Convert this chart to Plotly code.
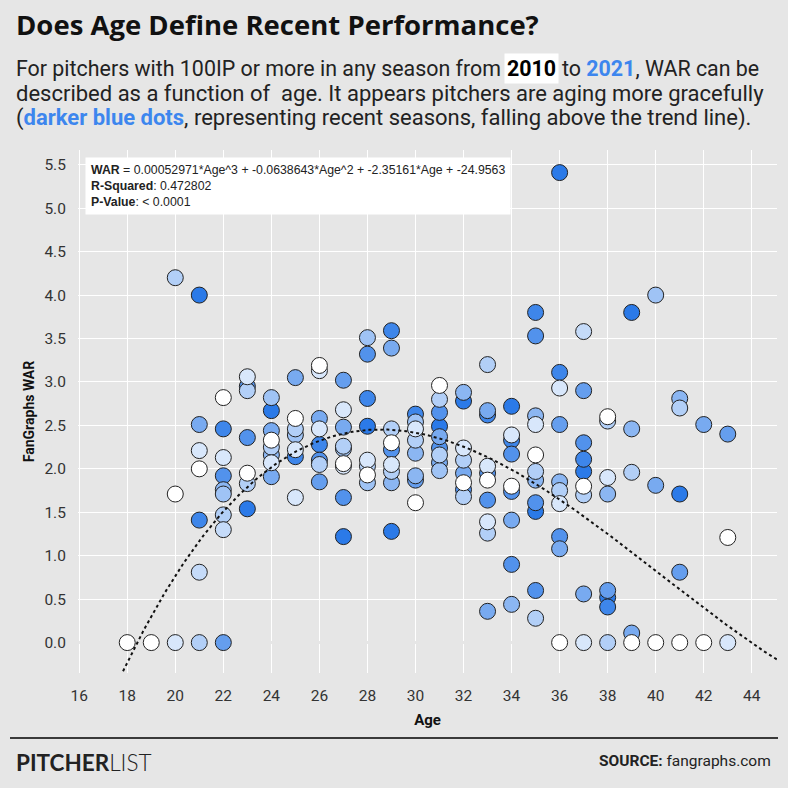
import numpy as np
import pandas as pd
import plotly.graph_objects as go

# pitcher seasons: age, fWAR, season (colour)
ages = (
    [18, 19]
    + [20] * 3
    + [21] * 7
    + [22] * 9
    + [23] * 7
    + [24] * 8
    + [25] * 7
    + [26] * 8
    + [27] * 9
    + [28] * 8
    + [29] * 9
    + [30] * 8
    + [31] * 9
    + [32] * 8
    + [33] * 10
    + [34] * 9
    + [35] * 11
    + [36] * 10
    + [37] * 9
    + [38] * 8
    + [39] * 5
    + [40] * 3
    + [41] * 5
    + [42] * 2
    + [43] * 3
)

war = [
    0.0, 0.0,
    4.2, 1.71, 0.0,
    4.0, 2.51, 2.21, 2.0, 1.41, 0.81, 0.0,
    2.82, 2.46, 2.13, 1.92, 1.76, 1.71, 1.47, 1.3, 0.0,
    3.06, 2.95, 2.9, 2.36, 1.95, 1.83, 1.54,
    2.82, 2.67, 2.44, 2.33, 2.25, 2.16, 2.07, 1.91,
    3.05, 2.58, 2.46, 2.39, 2.22, 2.14, 1.67,
    3.19, 3.13, 2.58, 2.46, 2.28, 2.1, 2.05, 1.85,
    3.02, 2.68, 2.48, 2.26, 2.23, 2.06, 2.03, 1.67, 1.22,
    3.51, 3.32, 2.81, 2.49, 2.1, 2.03, 1.93, 1.84,
    3.59, 3.39, 2.46, 2.3, 2.22, 2.05, 1.97, 1.84, 1.28,
    2.63, 2.54, 2.46, 2.33, 2.18, 1.92, 1.87, 1.61,
    2.96, 2.8, 2.65, 2.49, 2.37, 2.24, 2.16, 2.07, 1.98,
    2.88, 2.78, 2.24, 2.1, 1.95, 1.84, 1.76, 1.68,
    3.2, 2.67, 2.62, 2.03, 1.95, 1.87, 1.64, 1.39, 1.26, 0.36,
    2.72, 2.39, 2.33, 2.17, 1.8, 1.74, 1.41, 0.9, 0.44,
    3.8, 3.53, 2.61, 2.51, 2.16, 1.97, 1.87, 1.61, 1.51, 0.6, 0.28,
    5.41, 3.11, 2.93, 2.51, 1.85, 1.75, 1.6, 1.22, 1.08, 0.0,
    3.58, 2.9, 2.3, 2.11, 1.97, 1.8, 1.7, 0.56, 0.0,
    2.6, 2.55, 1.9, 1.71, 0.6, 0.52, 0.41, 0.0,
    3.8, 2.46, 1.96, 0.11, 0.0,
    4.0, 1.81, 0.0,
    2.81, 2.7, 1.71, 0.81, 0.0,
    2.51, 0.0,
    2.4, 1.21, 0.0,
]

season = [
    2010, 2010,
    2014, 2010, 2012,
    2021, 2017, 2012, 2010, 2020, 2013, 2014,
    2010, 2020, 2012, 2019, 2016, 2015, 2014, 2013, 2018,
    2012, 2019, 2014, 2019, 2010, 2014, 2021,
    2015, 2021, 2017, 2010, 2014, 2016, 2012, 2017,
    2017, 2010, 2014, 2015, 2012, 2020, 2012,
    2010, 2012, 2017, 2012, 2020, 2019, 2014, 2018,
    2018, 2012, 2017, 2014, 2015, 2010, 2012, 2019, 2021,
    2015, 2019, 2020, 2021, 2012, 2014, 2010, 2015,
    2020, 2017, 2014, 2010, 2019, 2012, 2014, 2016, 2021,
    2020, 2015, 2012, 2014, 2016, 2016, 2018, 2010,
    2010, 2014, 2019, 2021, 2017, 2019, 2014, 2017, 2015,
    2016, 2021, 2012, 2014, 2017, 2010, 2019, 2014,
    2014, 2017, 2020, 2012, 2019, 2010, 2019, 2012, 2014, 2017,
    2021, 2012, 2020, 2019, 2010, 2019, 2017, 2019, 2016,
    2020, 2019, 2016, 2012, 2010, 2014, 2016, 2019, 2021, 2019, 2014,
    2021, 2020, 2012, 2018, 2016, 2014, 2012, 2019, 2017, 2010,
    2013, 2018, 2019, 2020, 2021, 2010, 2014, 2017, 2012,
    2010, 2014, 2012, 2016, 2018, 2021, 2020, 2014,
    2021, 2016, 2014, 2017, 2010,
    2015, 2017, 2010,
    2016, 2014, 2021, 2018, 2010,
    2017, 2010,
    2018, 2010, 2012,
]

x_ticks = list(range(16, 46, 2))
y_ticks = [i / 2 for i in range(0, 12)]

# cubic trend from the fit box
fit_a, fit_b, fit_c, fit_d = 0.00052971, -0.0638643, 2.35161, -24.9563

BG = "#e6e6e6"
BLUE = "#2b7ae8"
W, H = 788, 788
L, R, T, B = 78, 11, 150, 115


def px(x):
    return (x - L) / (W - L - R)


def py(y):
    return (H - B - y) / (H - T - B)


df = pd.DataFrame({"Age": ages, "WAR": war, "Season": season})
df = df.sort_values("Season", ascending=False, kind="stable")

fig = go.Figure()

fig.add_trace(go.Scatter(
    x=df["Age"],
    y=df["WAR"],
    mode="markers",
    marker=dict(
        size=16,
        color=df["Season"],
        colorscale=[[0, "#ffffff"], [1, BLUE]],
        cmin=2010,
        cmax=2021,
        line=dict(color="#222222", width=1),
        opacity=1,
    ),
    hoverinfo="skip",
    showlegend=False,
))

trend_x = np.linspace(17.0, 46.0, 300)
trend_y = fit_a * trend_x ** 3 + fit_b * trend_x ** 2 + fit_c * trend_x + fit_d
fig.add_trace(go.Scatter(
    x=trend_x,
    y=trend_y,
    mode="lines",
    line=dict(color="#111111", width=2, dash="dot"),
    hoverinfo="skip",
    showlegend=False,
))

fig.update_layout(
    width=W,
    height=H,
    paper_bgcolor=BG,
    plot_bgcolor=BG,
    margin=dict(l=L, r=R, t=T, b=B),
    font=dict(family="Roboto", color="#222222"),
    xaxis=dict(
        range=[15.95, 45.05],
        tickvals=x_ticks,
        showgrid=True,
        gridcolor="white",
        gridwidth=1,
        zeroline=False,
        ticks="outside",
        ticklen=8,
        tickcolor=BG,
        tickfont=dict(size=15.5, color="#333333"),
        title=dict(text="<b>Age</b>", font=dict(size=15, color="#111111"),
                   standoff=10),
    ),
    yaxis=dict(
        range=[-0.35, 5.67],
        tickvals=y_ticks,
        tickformat=".1f",
        showgrid=True,
        gridcolor="white",
        gridwidth=1,
        zeroline=True,
        zerolinecolor=BG,
        zerolinewidth=3,
        ticks="outside",
        ticklen=8,
        tickcolor=BG,
        tickfont=dict(size=15.5, color="#333333"),
        title=dict(text="<b>FanGraphs WAR</b>", font=dict(size=14, color="#111111"),
                   standoff=6),
    ),
)

# dotted zero line
fig.add_shape(type="line", xref="paper", yref="y", x0=0, x1=1, y0=0, y1=0,
              line=dict(color="white", width=1, dash="dot"), layer="between")

# footer rule
fig.add_shape(type="line", xref="paper", yref="paper",
              x0=px(10), x1=px(778), y0=py(738), y1=py(738),
              line=dict(color="black", width=1.5))

line1_font = dict(family="Roboto", size=21.4, color="#222222")
sub_font = dict(family="Roboto", size=22, color="#222222")
notes = [
    dict(x=px(14), y=py(25), xanchor="left",
         text="<b>Does Age Define Recent Performance?</b>",
         font=dict(family="Open Sans", size=27.5, color="#111111")),
    dict(x=px(14), y=py(68), xanchor="left",
         text="For pitchers with 100IP or more in any season from", font=line1_font),
    dict(x=px(531), y=py(68), xanchor="center", text="<b>2010</b>",
         font=dict(family="Roboto", size=21.4, color="#000000"),
         bgcolor="white", borderpad=2),
    dict(x=px(560), y=py(68), xanchor="left",
         text="to <span style='color:#3d86ee'><b>2021</b></span>, WAR can be",
         font=line1_font),
    dict(x=px(14), y=py(93), xanchor="left",
         text="described as a function of  age. It appears pitchers are aging more gracefully",
         font=sub_font),
    dict(x=px(14), y=py(118), xanchor="left",
         text="(<span style='color:#3d86ee'><b>darker blue dots</b></span>, "
              "representing recent seasons, falling above the trend line).",
         font=sub_font),
    dict(x=px(85), y=py(157), xanchor="left", yanchor="top", align="left",
         text="<b>WAR</b> = 0.00052971*Age^3 + -0.0638643*Age^2 + -2.35161*Age + -24.9563"
              "<br><b>R-Squared</b>: 0.472802<br><b>P-Value</b>: < 0.0001",
         font=dict(family="Liberation Sans", size=12.3, color="#222222"),
         bgcolor="white", borderpad=5),
    dict(x=px(14), y=py(762), xanchor="left",
         text="<b>PITCHER</b>LIST",
         font=dict(family="Lato", size=22.5, color="#222222", weight=300)),
    dict(x=px(773), y=py(761), xanchor="right",
         text="<b>SOURCE:</b> fangraphs.com",
         font=dict(family="Roboto", size=15.5, color="#222222")),
]
for n in notes:
    fig.add_annotation(xref="paper", yref="paper", showarrow=False,
                       yanchor=n.pop("yanchor", "middle"), **n)

fig.write_html(
    "out.html",
    config={"displayModeBar": False},
    post_script="document.body.style.margin = '0';",
)
